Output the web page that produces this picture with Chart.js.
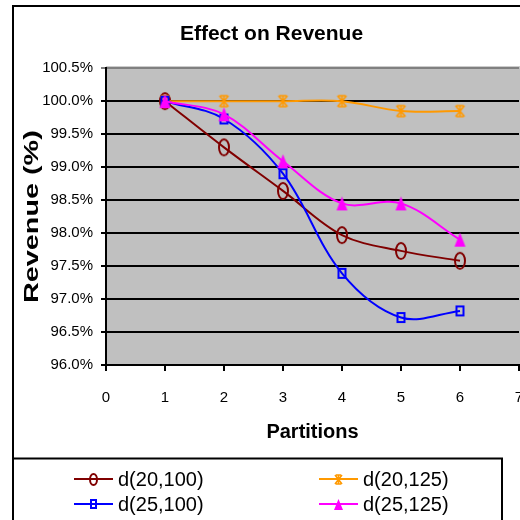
<!DOCTYPE html>
<html>
<head>
<meta charset="utf-8">
<title>Effect on Revenue</title>
<script src="https://cdn.jsdelivr.net/npm/chart.js@4/dist/chart.umd.min.js"></script>
<style>
  html, body { margin: 0; padding: 0; background: #ffffff; }
  canvas { display: block; }
</style>
</head>
<body>
<canvas id="chart" width="520" height="520"></canvas>
<script>
// Revenue (%) kept after partitioning, one series per d(a,b) setting
const partitions = [1, 2, 3, 4, 5, 6];
const seriesLabels = ['d(20,100)', 'd(20,125)', 'd(25,100)', 'd(25,125)'];
const d20_100 = [100.0, 99.30, 98.64, 97.97, 97.73, 97.58];
const d20_125 = [100.0, 100.0, 100.0, 100.0, 99.85, 99.85];
const d25_100 = [100.0, 99.73, 98.90, 97.39, 96.72, 96.82];
const d25_125 = [100.0, 99.80, 99.09, 98.45, 98.45, 97.90];
const yMin = 96.0, yMax = 100.5, yStep = 0.5;
const xMin = 0, xMax = 7, xStep = 1;

const FONT = '"Liberation Sans", Arial, sans-serif';

// small canvas markers (hollow ellipse, hollow square, star, filled triangle)
function makeMarker(kind, color, w, h) {
  const c = document.createElement('canvas');
  c.width = w + 4; c.height = h + 4;
  const g = c.getContext('2d');
  const cx = c.width / 2, cy = c.height / 2;
  g.strokeStyle = color; g.fillStyle = color; g.lineWidth = 2;
  if (kind === 'ellipse') {
    g.beginPath();
    g.ellipse(cx, cy, w / 2 - 1, h / 2 - 1, 0, 0, Math.PI * 2);
    g.stroke();
  } else if (kind === 'square') {
    g.strokeRect(cx - w / 2 + 1, cy - h / 2 + 1, w - 2, h - 2);
  } else if (kind === 'triangle') {
    g.beginPath();
    g.moveTo(cx, cy - h / 2);
    g.lineTo(cx + w / 2, cy + h / 2);
    g.lineTo(cx - w / 2, cy + h / 2);
    g.closePath();
    g.fill();
  } else if (kind === 'star') {
    g.lineWidth = 1.6;
    const l = cx - w / 2, r = cx + w / 2, t = cy - h / 2, b = cy + h / 2;
    g.beginPath();
    g.moveTo(cx, t); g.lineTo(cx, b);
    g.moveTo(l, t); g.lineTo(r, b);
    g.moveTo(r, t); g.lineTo(l, b);
    g.moveTo(l + 1, t); g.lineTo(r - 1, t);
    g.moveTo(l + 1, b); g.lineTo(r - 1, b);
    g.stroke();
  }
  return c;
}

const styles = [
  { color: '#800000', kind: 'ellipse',  big: [12, 18], small: [9, 13] },
  { color: '#FF9900', kind: 'star',     big: [9, 11],  small: [7, 9] },
  { color: '#0000FF', kind: 'square',   big: [9, 11],  small: [7, 10] },
  { color: '#FF00FF', kind: 'triangle', big: [11, 14], small: [9, 11] }
];
const seriesValues = [d20_100, d20_125, d25_100, d25_125];
const drawOrder = [3, 2, 1, 0];

const datasets = seriesLabels.map((label, i) => ({
  label: label,
  data: partitions.map((p, j) => ({ x: p, y: seriesValues[i][j] })),
  borderColor: styles[i].color,
  backgroundColor: styles[i].color,
  borderWidth: 2,
  tension: 0.35,
  fill: false,
  order: drawOrder[i],
  pointStyle: makeMarker(styles[i].kind, styles[i].color, styles[i].big[0], styles[i].big[1]),
  pointRadius: 4
}));

const legendMarkers = styles.map(s => makeMarker(s.kind, s.color, s.small[0], s.small[1]));

const decorations = {
  id: 'decorations',
  beforeDraw(chart) {
    const ctx = chart.ctx, a = chart.chartArea;
    ctx.save();
    ctx.fillStyle = '#ffffff';
    ctx.fillRect(0, 0, chart.width, chart.height);
    // outer chart frame (runs past the right and bottom edges)
    ctx.strokeStyle = '#000000';
    ctx.lineWidth = 2;
    ctx.strokeRect(13, 6, 620, 620);
    // plot area
    ctx.fillStyle = '#C0C0C0';
    ctx.fillRect(a.left, a.top - 2, a.right - a.left + 2, a.bottom - a.top + 2);
    ctx.restore();
  },
  afterDraw(chart) {
    const ctx = chart.ctx, a = chart.chartArea;
    ctx.save();
    // vertical axis title, stretched along its length
    ctx.translate(32, (a.top + a.bottom) / 2);
    ctx.rotate(-Math.PI / 2);
    ctx.scale(1.37, 1);
    ctx.font = 'bold 21px ' + FONT;
    ctx.fillStyle = '#000000';
    ctx.textAlign = 'center';
    ctx.textBaseline = 'middle';
    ctx.fillText('Revenue (%)', 0, 0);
    ctx.restore();

    // legend box with line + marker samples in two columns
    ctx.save();
    ctx.strokeStyle = '#000000';
    ctx.lineWidth = 2;
    ctx.strokeRect(13, 458.5, 489, 90);
    const cols = [74, 319], rows = [479, 504];
    ctx.font = '20px ' + FONT;
    ctx.textBaseline = 'middle';
    ctx.textAlign = 'left';
    seriesLabels.forEach((label, i) => {
      const lx = cols[i % 2], ly = rows[Math.floor(i / 2)];
      ctx.strokeStyle = styles[i].color;
      ctx.lineWidth = 2;
      ctx.beginPath();
      ctx.moveTo(lx, ly);
      ctx.lineTo(lx + 39, ly);
      ctx.stroke();
      const m = legendMarkers[i];
      ctx.drawImage(m, Math.round(lx + 19 - m.width / 2), Math.round(ly - m.height / 2));
      ctx.fillStyle = '#000000';
      ctx.fillText(label, lx + 44, ly + 1);
    });
    ctx.restore();
  }
};

new Chart(document.getElementById('chart'), {
  type: 'line',
  data: { datasets: datasets },
  plugins: [decorations],
  options: {
    responsive: false,
    animation: false,
    layout: { padding: { left: 24, right: 1, top: 0, bottom: 0 }, autoPadding: false },
    plugins: {
      legend: { display: false },
      tooltip: { enabled: false },
      title: {
        display: true,
        text: 'Effect on Revenue',
        color: '#000000',
        font: { family: FONT, size: 21, weight: 'bold' },
        padding: { top: 22, bottom: 21 }
      }
    },
    scales: {
      x: {
        type: 'linear',
        min: xMin, max: xMax,
        ticks: { stepSize: xStep, color: '#000000', font: { family: FONT, size: 15 }, padding: 18 },
        grid: { drawOnChartArea: false, drawTicks: true, tickLength: 6, color: '#000000', lineWidth: 2 },
        border: { color: '#000000', width: 2 },
        title: {
          display: true, text: 'Partitions', color: '#000000',
          font: { family: FONT, size: 20, weight: 'bold' },
          padding: { top: 0, bottom: 76 }
        },
        afterFit: s => { s.height = 155; s.paddingLeft = 0; s.paddingRight = 0; }
      },
      y: {
        min: yMin, max: yMax,
        ticks: {
          stepSize: yStep, color: '#000000', padding: 8,
          font: { family: FONT, size: 15 },
          callback: v => v.toFixed(1) + '%'
        },
        grid: {
          color: c => (c.tick && c.tick.value === yMax ? '#808080' : '#000000'),
          lineWidth: 2, tickLength: 5
        },
        border: { color: '#000000', width: 2 },
        afterFit: s => { s.width = 82; s.paddingTop = 0; s.paddingBottom = 0; }
      }
    }
  }
});
</script>
</body>
</html>
